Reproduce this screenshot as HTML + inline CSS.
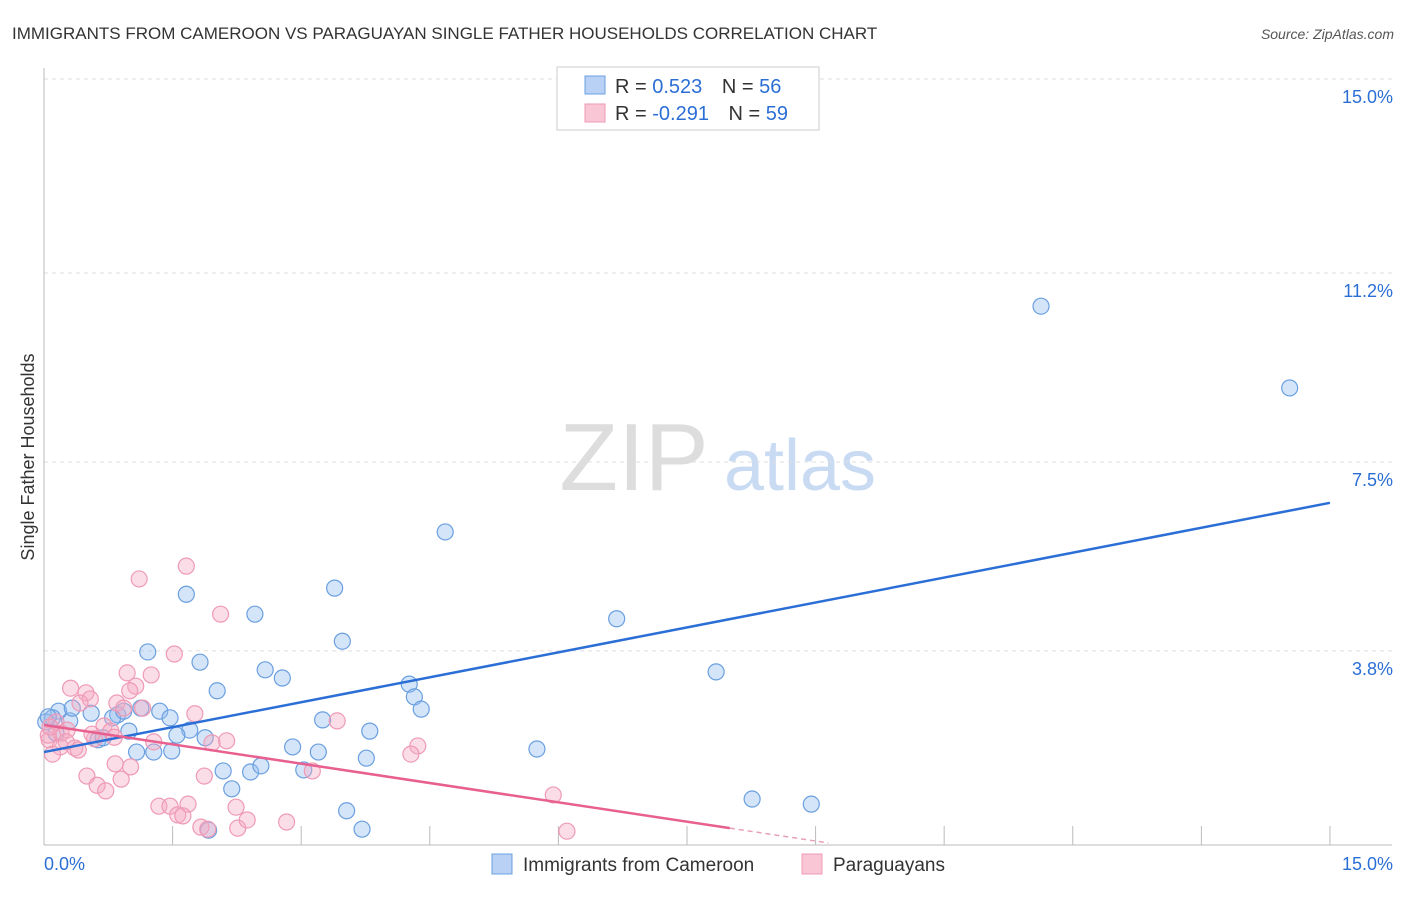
<!DOCTYPE html>
<html><head><meta charset="utf-8"><style>
body{margin:0;background:#fff;font-family:"Liberation Sans",sans-serif}
svg text{font-family:"Liberation Sans",sans-serif}
</style></head><body>
<svg id="chart" width="1406" height="892">
<text x="12" y="39" font-size="17" fill="#333">IMMIGRANTS FROM CAMEROON VS PARAGUAYAN SINGLE FATHER HOUSEHOLDS CORRELATION CHART</text>
<text x="1394" y="39" font-size="14" fill="#555" font-style="italic" text-anchor="end">Source: ZipAtlas.com</text>
<text x="634" y="490" font-size="96" fill="#ddd" font-family="Liberation Serif" text-anchor="middle">ZIP</text>
<text x="800" y="490" font-size="72" fill="#c9daf3" text-anchor="middle">atlas</text>
<text transform="translate(34,457) rotate(-90)" font-size="18" fill="#333" text-anchor="middle">Single Father Households</text>
<g id="grid"></g><g id="axes"></g><g id="pts"></g><g id="lines"></g>
<g>
<rect x="557" y="67" width="262" height="63" fill="#fff" stroke="#ccc"/>
<rect x="585" y="76" width="20" height="18" fill="#b8d1f5" stroke="#6a9fe0"/>
<rect x="585" y="104" width="20" height="18" fill="#f9c6d6" stroke="#ef9ab5"/>
<text x="615" y="93" font-size="20" fill="#333">R = <tspan fill="#2b6fd6"> 0.523</tspan>  <tspan dx="14">N = </tspan><tspan fill="#2b6fd6">56</tspan></text>
<text x="615" y="120" font-size="20" fill="#333">R = <tspan fill="#2b6fd6">-0.291</tspan>  <tspan dx="14">N = </tspan><tspan fill="#2b6fd6">59</tspan></text>
</g>
<g>
<rect x="492" y="854" width="20" height="20" fill="#b8d1f5" stroke="#6a9fe0"/>
<text x="523" y="871" font-size="19" fill="#333">Immigrants from Cameroon</text>
<rect x="802" y="854" width="20" height="20" fill="#f9c6d6" stroke="#ef9ab5"/>
<text x="833" y="871" font-size="19" fill="#333">Paraguayans</text>
</g>
</svg>
<script>
const yTicks=[3.8,7.5,11.2,15.0];
const yTickLabels=["3.8%","7.5%","11.2%","15.0%"];
const xTickVals=[0,1.5,3,4.5,6,7.5,9,10.5,12,13.5,15];
const blueX=[11.63,14.53,4.68,6.68,7.84,3.39,1.66,2.46,3.48,1.21,1.82,2.58,2.78,2.02,4.26,4.32,4.40,3.25,3.80,5.75,2.90,3.20,3.76,2.09,2.41,2.53,3.03,2.19,8.26,8.95,3.53,3.71,1.92,1.28,1.08,1.49,1.35,1.47,1.88,1.70,0.99,0.86,0.80,0.55,0.30,0.17,0.10,0.02,0.14,0.33,0.63,0.69,1.55,1.13,0.93,0.05];
const blueY=[10.55,8.95,6.13,4.43,3.39,5.03,4.91,4.52,3.99,3.78,3.58,3.43,3.27,3.02,3.15,2.90,2.66,2.45,2.23,1.88,1.92,1.82,1.70,1.45,1.43,1.55,1.47,1.10,0.90,0.80,0.67,0.31,0.29,1.82,1.82,1.84,2.62,2.49,2.10,2.25,2.23,2.55,2.49,2.58,2.43,2.62,2.49,2.41,2.19,2.68,2.06,2.10,2.15,2.68,2.62,2.51];
const pinkX=[1.11,1.66,2.06,1.52,1.25,0.97,1.07,1.00,0.31,0.49,0.54,0.42,0.85,0.93,1.15,1.76,1.28,1.96,2.13,3.42,4.36,4.28,0.14,0.06,0.20,0.27,0.19,0.10,0.36,0.40,0.70,0.78,0.82,0.59,0.83,0.50,0.62,0.72,0.90,1.01,1.87,2.24,1.34,1.47,1.68,1.56,1.62,1.83,2.26,2.37,1.91,2.83,3.13,5.94,6.10,0.56,0.26,0.05,0.07];
const pinkY=[5.21,5.46,4.52,3.74,3.33,3.37,3.11,3.02,3.07,2.98,2.86,2.78,2.78,2.68,2.68,2.57,2.02,2.00,2.04,2.43,1.94,1.78,2.41,2.06,2.19,2.25,1.92,1.78,1.90,1.86,2.33,2.23,2.11,2.08,1.59,1.35,1.17,1.06,1.29,1.53,1.35,0.74,0.76,0.76,0.80,0.59,0.57,0.35,0.33,0.49,0.31,0.45,1.45,0.98,0.27,2.17,2.02,2.15,2.31];
const blueTrend=[1.82,6.70];   // y at x=0, x=15
const pinkTrend=[2.35,-0.2525]; // intercept, slope
const pinkSolidEnd=8.0, pinkDashEnd=9.15;
const X=v=>44+v*85.73, Y=v=>845-v*51.07;
const NS="http://www.w3.org/2000/svg";
function mk(parent,tag,attrs){const e=document.createElementNS(NS,tag);for(const k in attrs)e.setAttribute(k,attrs[k]);document.getElementById(parent).appendChild(e);return e;}
yTicks.forEach((v,i)=>{
 const l=mk('grid','line',{x1:44,x2:1392,y1:Y(v),y2:Y(v),stroke:'#ddd','stroke-dasharray':'4,4'});
 
 
 const t=mk('grid','text',{x:1393,y:Y(v)+24,'font-size':18,fill:'#2b6fd6','text-anchor':'end'});t.textContent=yTickLabels[i];
 
 
});
let a=mk('axes','line',{x1:44,x2:44,y1:68,y2:845,stroke:'#bbb'});


a=mk('axes','line',{x1:44,x2:1392,y1:845,y2:845,stroke:'#bbb'});


xTickVals.slice(1).forEach(v=>{const t=mk('axes','line',{x1:X(v),x2:X(v),y1:826,y2:845,stroke:'#bbb'});
 
 });
let t=mk('axes','text',{x:44,y:870,'font-size':18,fill:'#2b6fd6'});t.textContent='0.0%';


t=mk('axes','text',{x:1393,y:870,'font-size':18,fill:'#2b6fd6','text-anchor':'end'});t.textContent='15.0%';


blueX.forEach((v,i)=>{const c=mk('pts','circle',{cx:X(v),cy:Y(blueY[i]),r:8,fill:'rgba(150,190,240,0.4)',stroke:'#6a9fe0','stroke-width':1.2});
 
 });
pinkX.forEach((v,i)=>{const c=mk('pts','circle',{cx:X(v),cy:Y(pinkY[i]),r:8,fill:'rgba(245,170,195,0.4)',stroke:'#ef9ab5','stroke-width':1.2});
 
 });
let ln=mk('lines','line',{x1:X(0),y1:Y(blueTrend[0]),x2:X(15),y2:Y(blueTrend[1]),stroke:'#2b6fd6','stroke-width':2.5});


const py=x=>pinkTrend[0]+pinkTrend[1]*x;
ln=mk('lines','line',{x1:X(0),y1:Y(py(0)),x2:X(pinkSolidEnd),y2:Y(py(pinkSolidEnd)),stroke:'#e8608f','stroke-width':2.5});


ln=mk('lines','line',{x1:X(pinkSolidEnd),y1:Y(py(pinkSolidEnd)),x2:X(pinkDashEnd),y2:Y(py(pinkDashEnd)),stroke:'#e8a0b8','stroke-width':1.5,'stroke-dasharray':'5,4'});


</script>
</body></html>
